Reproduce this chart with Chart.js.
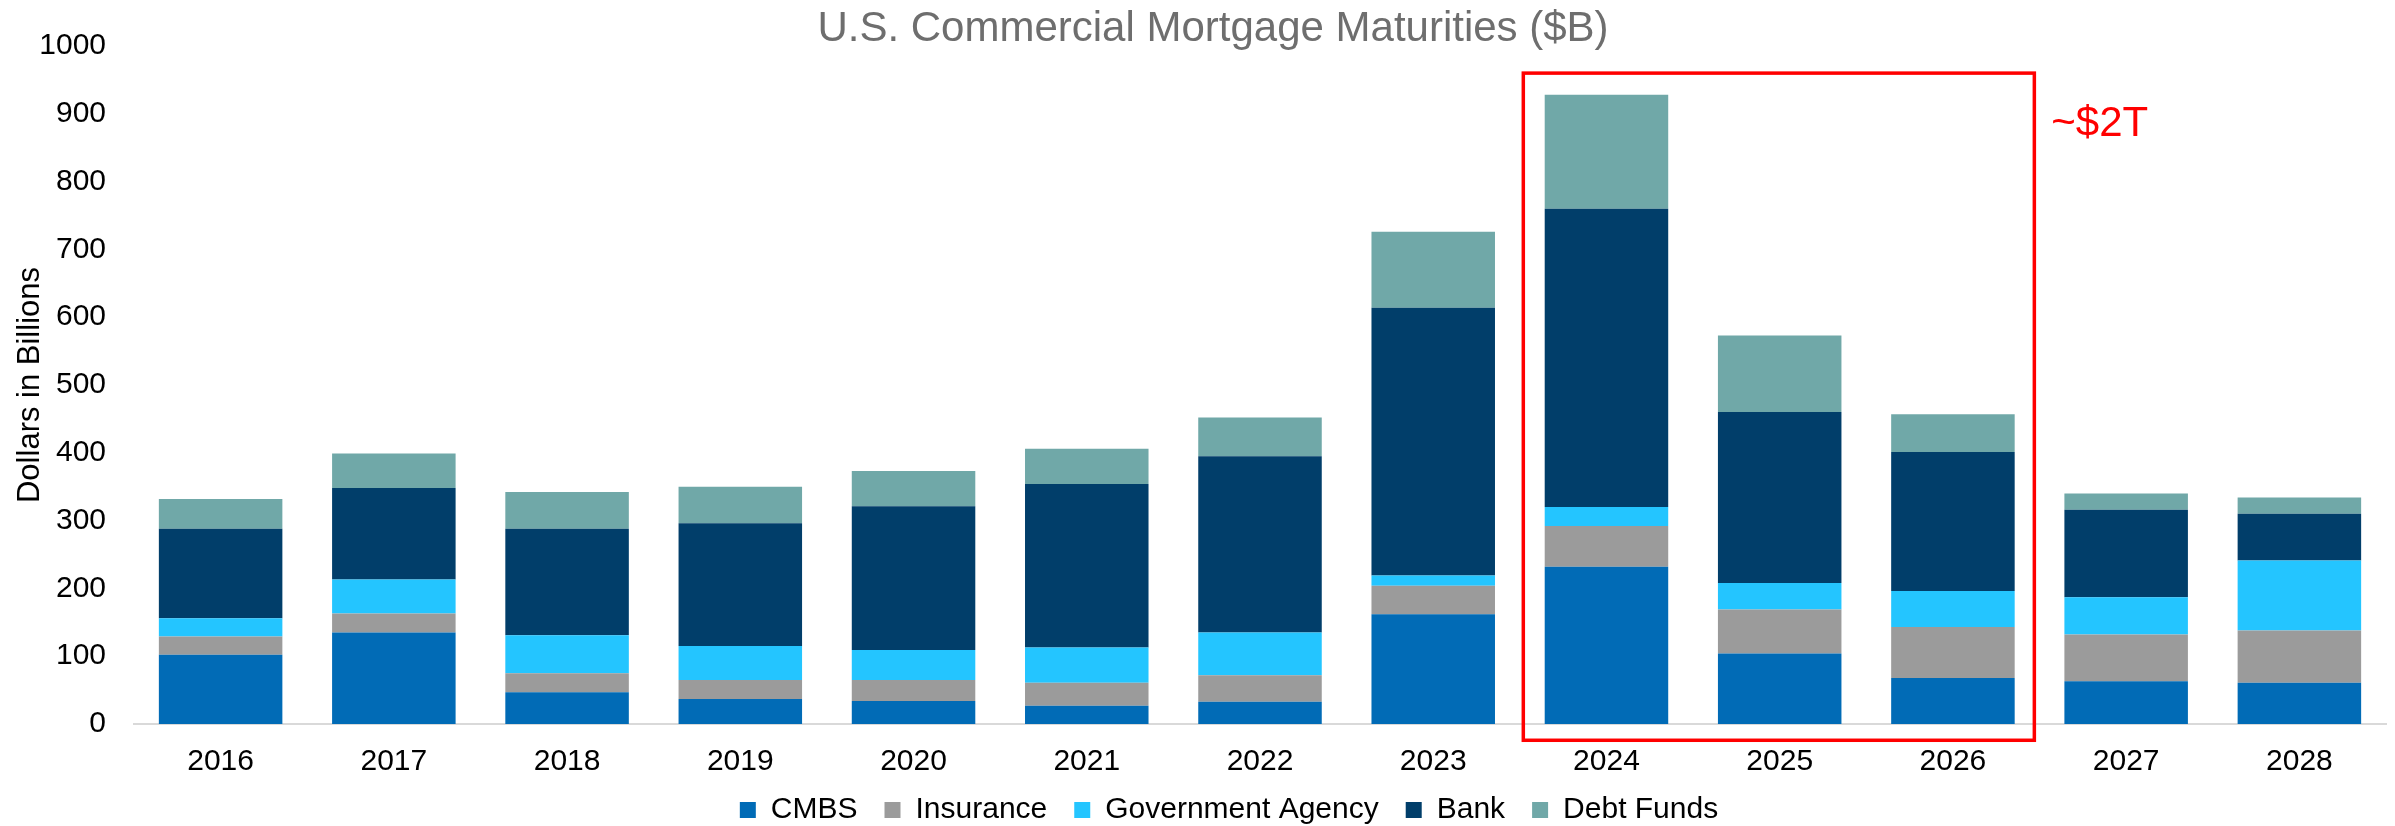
<!DOCTYPE html>
<html lang="en">
<head>
  <meta charset="UTF-8">
  <title>U.S. Commercial Mortgage Maturities</title>
  <script src="https://cdn.jsdelivr.net/npm/chart.js"></script>
  <style>
    html, body { margin: 0; padding: 0; background: #fff; }
    .chart-wrapper { width: 2395px; height: 826px; position: relative; }
  </style>
</head>
<body>
  <div class="chart-wrapper"><canvas id="maturitiesChart"></canvas></div>

  <script>
    // values, $B
    const years = ['2016', '2017', '2018', '2019', '2020', '2021', '2022', '2023', '2024', '2025', '2026', '2027', '2028'];
    const cmbs = [102, 135, 47, 37, 34, 27, 33, 162, 232, 104, 68, 63, 61];
    const insurance = [27, 28, 28, 28, 31, 34, 39, 42, 60, 65, 75, 69, 77];
    const govAgency = [27, 50, 56, 50, 44, 52, 63, 15, 28, 39, 53, 55, 103];
    const bank = [132, 135, 157, 181, 212, 241, 260, 395, 440, 252, 205, 129, 69];
    const debtFunds = [44, 51, 54, 54, 52, 52, 57, 112, 168, 113, 56, 24, 24];

    const yTicks = { min: 0, max: 1000, step: 100 };

    // red highlight box around 2024-2026
    const highlight = { from: 8, to: 10, top: 960, bottom: -24, label: '~$2T', labelValue: 885 };

    const FONT = "'Liberation Sans', Arial, sans-serif";

    const highlightBox = {
      id: 'highlightBox',
      afterLayout(chart) {
        // nudge legend and title to where the original had them
        const lg = chart.legend;
        lg.top -= 12; lg.bottom -= 12;
        lg.left += 36; lg.right += 36;
        const tb = chart.titleBlock;
        tb.left += 20; tb.right += 20;
      },
      afterDraw(chart) {
        const { ctx, scales: { x, y } } = chart;
        const step = x.getPixelForValue(1) - x.getPixelForValue(0);
        const left = x.getPixelForValue(highlight.from) - step * 0.48;
        const right = x.getPixelForValue(highlight.to) + step * 0.47;
        const top = y.getPixelForValue(highlight.top);
        const bottom = y.getPixelForValue(highlight.bottom);
        ctx.save();
        ctx.strokeStyle = '#ff0000';
        ctx.lineWidth = 3.5;
        ctx.strokeRect(left, top, right - left, bottom - top);
        ctx.fillStyle = '#ff0000';
        ctx.font = '42px ' + FONT;
        ctx.textAlign = 'left';
        ctx.textBaseline = 'middle';
        ctx.fillText(highlight.label, right + 17, y.getPixelForValue(highlight.labelValue));
        ctx.restore();
      }
    };

    const ctx = document.getElementById('maturitiesChart').getContext('2d');
    new Chart(ctx, {
      type: 'bar',
      data: {
        labels: years,
        datasets: [
          { label: 'CMBS', data: cmbs, backgroundColor: '#016bb6' },
          { label: 'Insurance', data: insurance, backgroundColor: '#9b9b9b' },
          { label: 'Government Agency', data: govAgency, backgroundColor: '#24c5ff' },
          { label: 'Bank', data: bank, backgroundColor: '#013e6a' },
          { label: 'Debt Funds', data: debtFunds, backgroundColor: '#70a8a8' }
        ]
      },
      options: {
        responsive: true,
        maintainAspectRatio: false,
        animation: false,
        layout: { padding: { left: 0, right: 9, top: 0, bottom: -21 } },
        datasets: { bar: { barPercentage: 0.713, categoryPercentage: 1 } },
        plugins: {
          title: {
            display: true,
            text: 'U.S. Commercial Mortgage Maturities ($B)',
            color: '#6e6e6e',
            font: { family: FONT, size: 42, weight: 'normal', lineHeight: 0.8 },
            padding: { top: 10, bottom: 0 }
          },
          legend: {
            position: 'bottom',
            labels: {
              boxWidth: 16,
              boxHeight: 16,
              padding: 27,
              color: '#000',
              font: { family: FONT, size: 30 }
            }
          },
          tooltip: { enabled: false }
        },
        scales: {
          x: {
            stacked: true,
            grid: { display: false, drawTicks: false },
            border: { display: true, color: '#d9d9d9', width: 2 },
            ticks: { color: '#000', padding: 20, font: { family: FONT, size: 30 } },
            afterFit(scale) { scale.height = 56; }
          },
          y: {
            stacked: true,
            min: yTicks.min,
            max: yTicks.max,
            grid: { display: false, drawTicks: false },
            border: { display: false },
            ticks: {
              stepSize: yTicks.step,
              color: '#000',
              padding: 28,
              font: { family: FONT, size: 30 },
              callback: (v) => String(v)
            },
            title: {
              display: true,
              text: 'Dollars in Billions',
              color: '#000',
              font: { family: FONT, size: 31 },
              padding: { top: 12, bottom: 0 }
            },
            afterFit(scale) { scale.width = 134; }
          }
        }
      },
      plugins: [highlightBox]
    });
  </script>
</body>
</html>
